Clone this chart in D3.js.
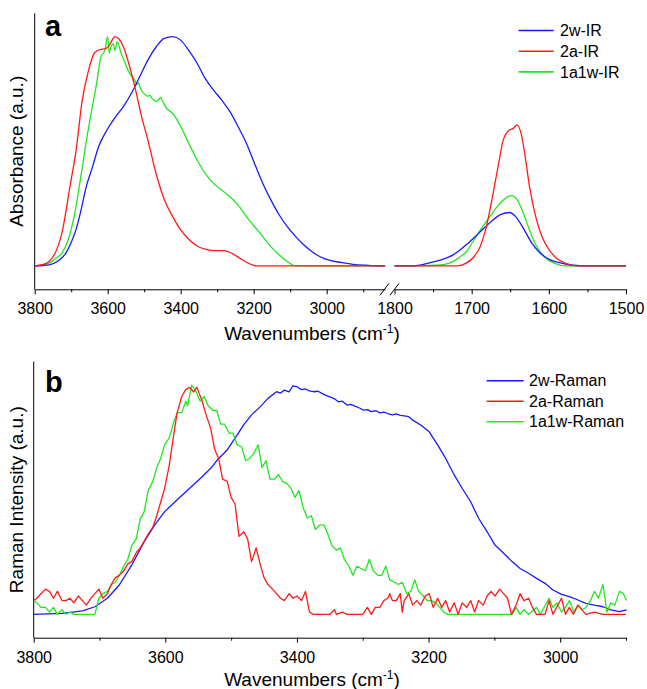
<!DOCTYPE html>
<html>
<head>
<meta charset="utf-8">
<script src="https://cdn.jsdelivr.net/npm/d3@7"></script>
<style>
  body { margin: 0; background: #fff; }
  svg { display: block; font-family: Arial, "Liberation Sans", sans-serif; }
</style>
</head>
<body>
<div id="chart"></div>
<script>
// ---- data: IR (panel a), [wavenumber, absorbance a.u.] ----
const ir2wHigh = [[3800,0],[3760,0.005],[3737,0.02],[3715,0.055],[3698,0.11],[3687,0.157],[3675,0.23],[3658,0.35],[3642,0.43],[3625,0.52],[3602,0.593],[3574,0.66],[3557,0.695],[3535,0.753],[3512,0.826],[3490,0.898],[3467,0.956],[3445,0.993],[3422,1.0],[3400,0.985],[3378,0.94],[3355,0.884],[3333,0.818],[3310,0.767],[3288,0.724],[3265,0.673],[3243,0.608],[3220,0.535],[3198,0.448],[3175,0.36],[3153,0.288],[3130,0.222],[3108,0.171],[3085,0.128],[3063,0.092],[3040,0.062],[3018,0.04],[2996,0.026],[2962,0.015],[2928,0.007],[2894,0.003],[2855,0],[2840,0]];
const ir2aHigh = [[3800,0],[3770,0.01],[3760,0.02],[3740,0.07],[3726,0.14],[3703,0.35],[3687,0.5],[3670,0.72],[3653,0.85],[3636,0.93],[3619,0.945],[3608,0.946],[3597,0.96],[3580,1.0],[3569,0.99],[3557,0.956],[3540,0.87],[3524,0.77],[3507,0.65],[3490,0.55],[3467,0.40],[3445,0.29],[3422,0.215],[3400,0.157],[3378,0.116],[3355,0.087],[3333,0.073],[3310,0.067],[3282,0.067],[3260,0.055],[3237,0.033],[3215,0.012],[3192,0],[2840,0]];
const ir1a1wHigh = [[3800,0],[3760,0.012],[3743,0.033],[3726,0.055],[3709,0.11],[3692,0.215],[3675,0.375],[3658,0.55],[3642,0.695],[3630,0.8],[3619,0.91],[3608,0.94],[3600,1.0],[3596,0.93],[3591,0.956],[3585,0.97],[3580,0.94],[3574,0.978],[3563,0.927],[3552,0.884],[3540,0.84],[3530,0.82],[3524,0.804],[3520,0.79],[3515,0.80],[3512,0.782],[3501,0.753],[3490,0.74],[3485,0.745],[3479,0.731],[3470,0.72],[3467,0.717],[3460,0.725],[3455,0.735],[3451,0.724],[3439,0.688],[3422,0.666],[3400,0.608],[3378,0.535],[3355,0.462],[3333,0.404],[3310,0.36],[3288,0.331],[3265,0.302],[3243,0.266],[3220,0.215],[3198,0.172],[3175,0.128],[3153,0.084],[3130,0.048],[3108,0.019],[3085,0],[2840,0]];
const ir2wLow = [[1800,0],[1777,0],[1756,0.012],[1740,0.026],[1724,0.048],[1707,0.092],[1691,0.142],[1675,0.193],[1662,0.225],[1651,0.233],[1643,0.215],[1633,0.164],[1622,0.099],[1611,0.055],[1598,0.026],[1584,0.012],[1568,0.003],[1552,0],[1500,0]];
const ir2aLow = [[1800,0],[1718,0],[1707,0.012],[1697,0.04],[1689,0.084],[1681,0.17],[1673,0.302],[1665,0.448],[1659,0.55],[1651,0.593],[1646,0.6],[1641,0.615],[1635,0.564],[1630,0.462],[1625,0.346],[1617,0.215],[1609,0.128],[1601,0.077],[1590,0.033],[1579,0.012],[1563,0],[1500,0]];
const ir1a1wLow = [[1800,0],[1745,0.003],[1729,0.012],[1718,0.033],[1707,0.062],[1697,0.113],[1686,0.17],[1675,0.222],[1665,0.266],[1654,0.3],[1648,0.307],[1641,0.288],[1633,0.23],[1625,0.157],[1617,0.092],[1606,0.04],[1593,0.012],[1579,0],[1500,0]];

// ---- data: Raman (panel b), [wavenumber, intensity a.u.] ----
const raman2w = [[3800,0],[3757,0.004],[3726,0.015],[3707,0.033],[3688,0.07],[3670,0.128],[3651,0.215],[3632,0.317],[3616,0.39],[3601,0.448],[3582,0.5],[3563,0.55],[3544,0.6],[3531,0.637],[3519,0.68],[3506,0.717],[3491,0.782],[3481,0.826],[3469,0.87],[3456,0.905],[3444,0.942],[3431,0.971],[3425,0.965],[3419,0.978],[3412,0.97],[3406,0.997],[3400,0.993],[3393,0.98],[3387,0.983],[3381,0.975],[3375,0.971],[3368,0.973],[3362,0.964],[3356,0.955],[3350,0.949],[3343,0.94],[3337,0.927],[3331,0.93],[3324,0.913],[3318,0.916],[3312,0.908],[3305,0.90],[3299,0.891],[3293,0.893],[3287,0.884],[3280,0.888],[3274,0.879],[3268,0.882],[3262,0.876],[3255,0.87],[3249,0.874],[3243,0.868],[3237,0.866],[3230,0.862],[3224,0.847],[3212,0.826],[3199,0.796],[3186,0.738],[3174,0.68],[3161,0.608],[3149,0.55],[3136,0.491],[3124,0.419],[3111,0.36],[3099,0.302],[3086,0.266],[3073,0.23],[3061,0.2],[3048,0.179],[3036,0.157],[3023,0.135],[3011,0.106],[2998,0.087],[2986,0.077],[2973,0.0625],[2961,0.048],[2948,0.04],[2935,0.033],[2923,0.019],[2910,0.012],[2899,0.019]];
const raman2a = [[3800,0.06],[3795,0.07],[3789,0.09],[3782,0.11],[3776,0.10],[3770,0.07],[3764,0.10],[3757,0.06],[3751,0.06],[3745,0.07],[3739,0.05],[3732,0.08],[3726,0.06],[3720,0.04],[3713,0.07],[3707,0.09],[3701,0.11],[3695,0.07],[3688,0.09],[3682,0.13],[3676,0.16],[3670,0.17],[3663,0.19],[3657,0.22],[3651,0.23],[3644,0.27],[3638,0.29],[3632,0.32],[3626,0.35],[3619,0.38],[3613,0.43],[3607,0.49],[3601,0.55],[3594,0.65],[3588,0.77],[3582,0.88],[3575,0.95],[3569,0.98],[3563,0.99],[3557,0.97],[3552,0.99],[3544,0.93],[3538,0.87],[3531,0.81],[3525,0.72],[3519,0.68],[3513,0.59],[3506,0.58],[3500,0.51],[3494,0.48],[3488,0.34],[3481,0.36],[3475,0.33],[3469,0.23],[3462,0.29],[3456,0.22],[3450,0.16],[3444,0.13],[3437,0.11],[3431,0.09],[3425,0.07],[3419,0.06],[3412,0.09],[3406,0.07],[3400,0.08],[3393,0.06],[3387,0.10],[3381,0.01],[3375,0],[3350,0],[3343,0.02],[3340,0],[3331,0.01],[3324,0],[3300,0],[3293,0.03],[3287,0],[3281,0.03],[3274,0.03],[3268,0.06],[3262,0.07],[3259,0.09],[3255,0.06],[3249,0.06],[3243,0.09],[3240,0.01],[3237,0.06],[3230,0.09],[3224,0.04],[3218,0.06],[3212,0.04],[3205,0.08],[3199,0.09],[3193,0.03],[3186,0.07],[3180,0.03],[3174,0.06],[3168,0.01],[3161,0.05],[3155,0],[3149,0.05],[3142,0.03],[3136,0.06],[3130,0.01],[3124,0.06],[3117,0.04],[3111,0.08],[3105,0.10],[3099,0.08],[3092,0.11],[3086,0.09],[3080,0.07],[3074,0],[3067,0.04],[3061,0.09],[3055,0.06],[3048,0.07],[3042,0.03],[3036,0],[3023,0],[3017,0.06],[3011,0],[2998,0.07],[2992,0],[2986,0.03],[2980,0],[2973,0.04],[2961,0],[2948,0.01],[2936,0],[2900,0]];
const raman1a1w = [[3800,0.06],[3795,0.05],[3789,0.03],[3782,0.03],[3776,0.01],[3770,0.03],[3764,0],[3757,0.02],[3751,0],[3745,0.01],[3739,0],[3707,0],[3701,0.07],[3695,0.09],[3688,0.10],[3682,0.13],[3676,0.14],[3670,0.17],[3663,0.21],[3657,0.24],[3651,0.30],[3644,0.33],[3638,0.42],[3635,0.43],[3632,0.45],[3626,0.54],[3619,0.58],[3613,0.64],[3607,0.68],[3601,0.74],[3594,0.77],[3588,0.83],[3582,0.88],[3575,0.88],[3569,0.93],[3566,0.91],[3560,1.0],[3553,0.97],[3547,0.93],[3541,0.95],[3535,0.91],[3528,0.89],[3522,0.89],[3516,0.83],[3510,0.83],[3503,0.79],[3497,0.79],[3491,0.74],[3484,0.73],[3478,0.67],[3472,0.68],[3466,0.70],[3459,0.74],[3453,0.64],[3447,0.67],[3441,0.59],[3434,0.59],[3428,0.61],[3422,0.58],[3415,0.57],[3409,0.55],[3403,0.51],[3397,0.54],[3390,0.46],[3384,0.42],[3378,0.43],[3372,0.37],[3365,0.39],[3359,0.39],[3353,0.35],[3347,0.30],[3340,0.28],[3334,0.29],[3328,0.24],[3321,0.21],[3315,0.17],[3309,0.21],[3303,0.20],[3296,0.19],[3290,0.24],[3284,0.19],[3277,0.17],[3271,0.17],[3265,0.21],[3259,0.15],[3252,0.14],[3246,0.13],[3240,0.14],[3233,0.09],[3227,0.10],[3221,0.15],[3215,0.10],[3208,0.08],[3202,0.06],[3196,0.06],[3189,0.05],[3183,0.03],[3177,0.01],[3171,0],[3073,0],[3067,0.03],[3061,0],[3055,0.02],[3048,0],[3036,0.03],[3030,0],[3017,0.07],[3011,0.03],[3005,0.05],[2998,0.01],[2992,0.03],[2986,0.06],[2979,0.01],[2973,0.04],[2967,0.02],[2961,0.03],[2954,0.06],[2948,0.10],[2942,0.07],[2935,0.13],[2929,0.01],[2923,0.05],[2917,0.04],[2910,0.10],[2904,0.09],[2899,0.06]];

// ---- ticks and labels ----
const irHighMajor = [3800, 3600, 3400, 3200, 3000];
const irHighMinor = [3700, 3500, 3300, 3100, 2900];
const irLowMajor = [1800, 1700, 1600, 1500];
const irLowMinor = [1750, 1650, 1550];
const ramanMajor = [3800, 3600, 3400, 3200, 3000];
const ramanMinor = [3700, 3500, 3300, 3100, 2900];
const irNames = ["2w-IR", "2a-IR", "1a1w-IR"];
const ramanNames = ["2w-Raman", "2a-Raman", "1a1w-Raman"];
const colors = ["#1a1aff", "#ff1a1a", "#22e622"];

const width = 647, height = 689;
const svg = d3.select("#chart").append("svg")
  .attr("width", width).attr("height", height);

const yDomain = [-0.102, 1.102];

function xAxes(g, scale, axisY, major, minor) {
  // minor ticks
  g.append("g")
    .attr("transform", `translate(0,${axisY})`)
    .call(d3.axisBottom(scale).tickValues(minor).tickSize(3).tickSizeOuter(0).tickFormat(""))
    .call(a => a.select(".domain").remove());
  // major ticks + labels
  const ax = g.append("g")
    .attr("transform", `translate(0,${axisY})`)
    .call(d3.axisBottom(scale).tickValues(major).tickSize(5).tickSizeOuter(0)
      .tickPadding(8.5).tickFormat(d3.format("d")));
  ax.selectAll("text").style("font-size", "16px").attr("fill", "#000");
  ax.selectAll("line, path").attr("stroke", "#000");
  return ax;
}

function drawLine(g, data, xs, ys, color, curve) {
  const line = d3.line()
    .x(d => xs(d[0]))
    .y(d => ys(d[1]))
    .curve(curve);
  g.append("path")
    .datum(data)
    .attr("fill", "none")
    .attr("stroke", color)
    .attr("stroke-width", 1.3)
    .attr("stroke-linejoin", "round")
    .attr("d", line);
}

function legend(g, names, x1, x2, tx, y0, dy) {
  names.forEach((n, i) => {
    const y = y0 + i * dy;
    g.append("line").attr("x1", x1).attr("x2", x2).attr("y1", y).attr("y2", y)
      .attr("stroke", colors[i]).attr("stroke-width", 1.6);
    g.append("text").attr("x", tx).attr("y", y + 5.7)
      .style("font-size", "16px").text(n);
  });
}

function xTitle(g, x, y) {
  const t = g.append("text").attr("x", x).attr("y", y)
    .attr("text-anchor", "middle").style("font-size", "19px");
  t.append("tspan").text("Wavenumbers (cm");
  t.append("tspan").attr("dy", -7).style("font-size", "12px").text("-1");
  t.append("tspan").attr("dy", 7).text(")");
}

function yTitle(g, x, y, label) {
  g.append("text")
    .attr("transform", `translate(${x},${y}) rotate(-90)`)
    .attr("text-anchor", "middle")
    .style("font-size", "19px")
    .text(label);
}

// ================= panel a =================
const a = svg.append("g");
const aTop = 13.3, aAxis = 289.3, aLeft = 34.7;
const xHigh = d3.scaleLinear().domain([3800, 2840]).range([aLeft, 385.1]);
const xLow = d3.scaleLinear().domain([1800, 1500]).range([394.5, 626]);
const yA = d3.scaleLinear().domain(yDomain).range([aAxis, aTop]);

xAxes(a, xHigh, aAxis, irHighMajor, irHighMinor);
xAxes(a, xLow, aAxis, irLowMajor, irLowMinor);

// axis break marks
[384.5, 394.5].forEach(cx => {
  a.append("line")
    .attr("x1", cx - 4.5).attr("y1", aAxis + 6)
    .attr("x2", cx + 4.5).attr("y2", aAxis - 6)
    .attr("stroke", "#000").attr("stroke-width", 1);
});

a.append("line").attr("x1", aLeft).attr("x2", aLeft).attr("y1", aTop).attr("y2", aAxis)
  .attr("stroke", "#000").attr("stroke-width", 1);

const irHigh = [ir2wHigh, ir2aHigh, ir1a1wHigh];
const irLow = [ir2wLow, ir2aLow, ir1a1wLow];
[2, 0, 1].forEach(i => {
  drawLine(a, irHigh[i], xHigh, yA, colors[i], d3.curveMonotoneX);
  drawLine(a, irLow[i], xLow, yA, colors[i], d3.curveMonotoneX);
});

legend(a, irNames, 518.6, 553.7, 560, 30.5, 20.7);
a.append("text").attr("x", 45).attr("y", 36).style("font-size", "29px")
  .style("font-weight", "bold").text("a");
xTitle(a, 312, 340);
yTitle(a, 23, (aTop + aAxis) / 2, "Absorbance (a.u.)");

// ================= panel b =================
const b = svg.append("g");
const bTop = 361.7, bAxis = 637.7, bLeft = 33.7;
const xB = d3.scaleLinear().domain([3800, 2900]).range([bLeft, 626]);
const yB = d3.scaleLinear().domain(yDomain).range([bAxis, bTop]);

xAxes(b, xB, bAxis, ramanMajor, ramanMinor);
b.append("line").attr("x1", bLeft).attr("x2", bLeft).attr("y1", bTop).attr("y2", bAxis)
  .attr("stroke", "#000").attr("stroke-width", 1);

const raman = [raman2w, raman2a, raman1a1w];
[0, 2, 1].forEach(i => {
  drawLine(b, raman[i], xB, yB, colors[i], d3.curveLinear);
});

legend(b, ramanNames, 486.6, 523.7, 529, 380.7, 20.5);
b.append("text").attr("x", 45).attr("y", 392).style("font-size", "29px")
  .style("font-weight", "bold").text("b");
xTitle(b, 312, 686);
yTitle(b, 23, (bTop + bAxis) / 2, "Raman Intensity (a.u.)");
</script>
</body>
</html>
